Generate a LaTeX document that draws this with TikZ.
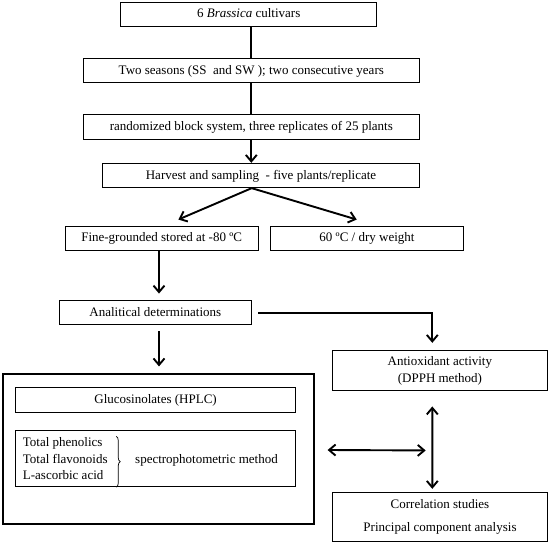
\documentclass[tikz,border=0pt]{standalone}
\usepackage{fontspec}
\setmainfont{Liberation Serif}
\usetikzlibrary{arrows.meta,calc,decorations.pathreplacing}
\begin{document}
\begin{tikzpicture}[x=1pt,y=-1pt,
  txt/.style={font=\fontsize{13}{17}\selectfont},
  box/.style={draw, line width=0.9pt, inner sep=0pt, txt, text height=9.5pt, text depth=2.5pt},
  mbox/.style={draw, line width=0.9pt, inner sep=0pt, txt, align=center},
  conn/.style={line width=1.9pt},
  arr/.style={conn, -{Straight Barb[length=6.5pt,width=11pt]}},
  barr/.style={conn, {Straight Barb[length=6.5pt,width=11pt]}-{Straight Barb[length=6.5pt,width=11pt]}},
]
\useasboundingbox (0,0) rectangle (550,544);

\node[box, minimum width=256pt, minimum height=23.3pt] (b1) at (248.7,14.35) {6 \textit{Brassica} cultivars};
\node[box, minimum width=336pt, minimum height=24.4pt] (b2) at (251.3,70.5) {Two seasons (SS\ \ and SW ); two consecutive years};
\node[box, minimum width=336pt, minimum height=25pt] (b3) at (251.3,126.5) {randomized block system, three replicates of 25 plants};
\node[box, minimum width=316.6pt, minimum height=24.4pt] (b4) at (261,175.5) {Harvest and sampling\ \ - five plants/replicate};
\node[box, minimum width=193.3pt, minimum height=24pt] (b5) at (161.65,238) {Fine-grounded stored at -80 ºC};
\node[box, minimum width=192.6pt, minimum height=24pt] (b6) at (367,238) {60 ºC / dry weight};
\node[box, minimum width=192.7pt, minimum height=24pt] (b7) at (155.35,312.7) {Analitical determinations};
\node[mbox, minimum width=215.2pt, minimum height=40pt] (b8) at (439.9,370.7) {Antioxidant activity\\(DPPH method)};
\node[draw, line width=1.8pt, inner sep=0pt, minimum width=311.3pt, minimum height=150.2pt] (big) at (158.35,449.1) {};
\node[box, minimum width=279.8pt, minimum height=25pt] (gl) at (155.6,399.8) {Glucosinolates (HPLC)};
\node[draw, line width=0.9pt, inner sep=0pt, minimum width=279.8pt, minimum height=56pt] (sp) at (155.6,458.7) {};
\node[txt, align=left, inner sep=0pt, anchor=west, font=\fontsize{13}{16.2}\selectfont] (pl) at (22.7,458.7) {Total phenolics\\Total flavonoids\\L-ascorbic acid};
\node[txt, inner sep=0pt, anchor=base west] (sm) at (135,463) {spectrophotometric method};
\node[mbox, minimum width=215.5pt, minimum height=49.4pt] (co) at (440,517) {Correlation studies\\[6.4pt]Principal component analysis};

\draw[decorate, decoration={brace, amplitude=4pt}, line width=0.7pt]
  ($(sp.north west)+(101,6)$) -- ($(sp.south west)+(101,0)$);

% connectors
\draw[conn] (b2.north |- b1.south) -- (b2.north);
\draw[conn] (b2.south) -- (b3.north);
\draw[arr] (b3.south) -- (b3.south |- b4.north);
\coordinate (fork) at ($(b3.south |- b4.south)+(0.4,0)$);
\draw[arr] (fork) -- ($(b5.north)+(16.7,-6)$);
\draw[arr] (fork) -- ($(b6.north)+(-10.3,-6)$);
\draw[arr] ($(b5.south)+(-2.65,0)$) -- ($(b7.north)+(3.65,-6.7)$);
\draw[arr] ($(b7.south)+(3.65,6)$) -- ($(big.north)+(0.65,-6.7)$);
\draw[arr] ($(b7.east)+(6,0)$) -| ($(b8.north)+(-7.6,-7.4)$);
\coordinate (hub) at ($(b8.south)+(-7.6,59.3)$);
\draw[barr] ($(big.east)+(12.7,0.9)$) -- ($(hub)+(-6.6,0)$);
\draw[barr] ($(b8.south)+(-7.6,15.3)$) -- ($(co.north)+(-7.7,-3)$);
\end{tikzpicture}
\end{document}
